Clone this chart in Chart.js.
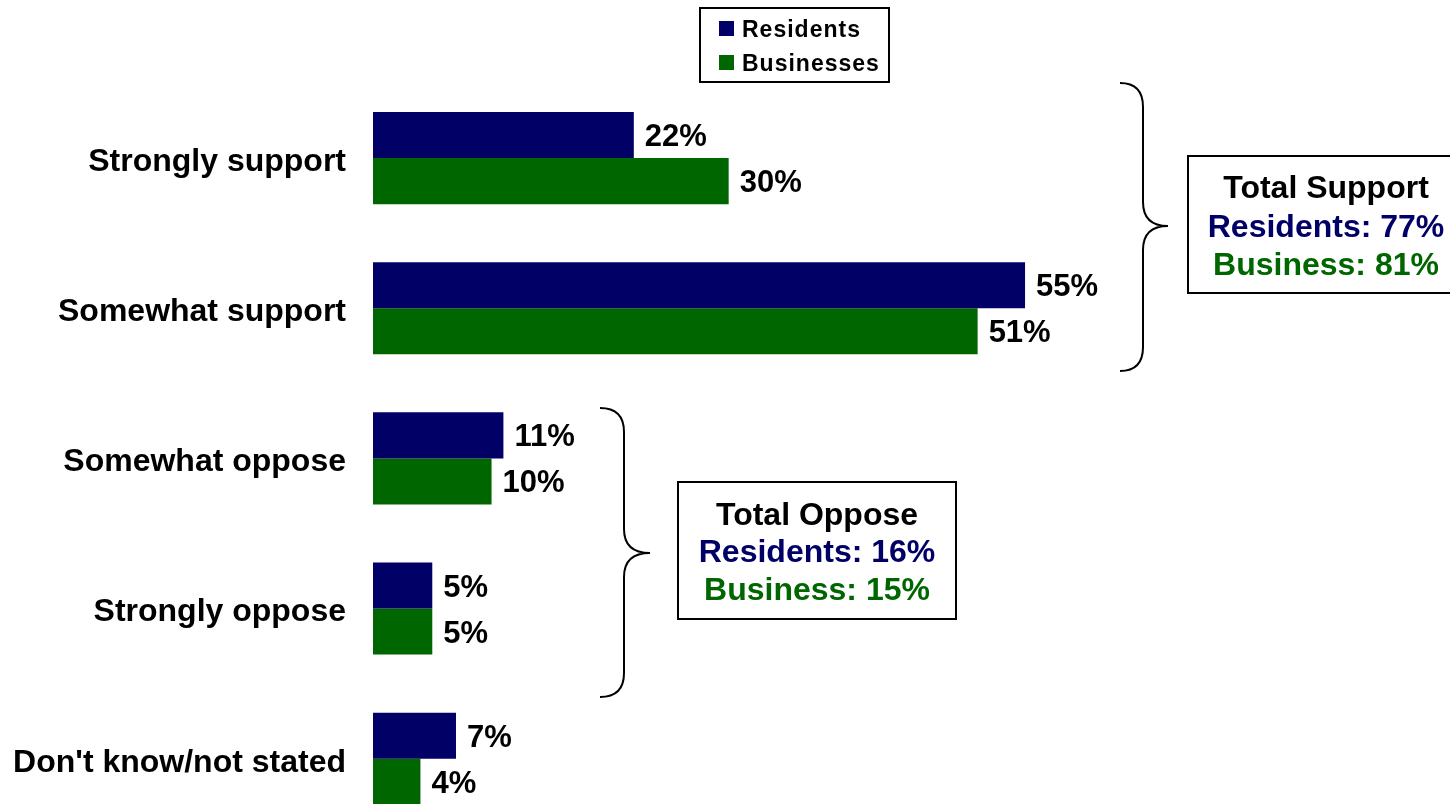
<!DOCTYPE html>
<html>
<head>
<meta charset="utf-8">
<title>Support and opposition: residents and businesses</title>
<script src="https://cdn.jsdelivr.net/npm/chart.js@4/dist/chart.umd.min.js"></script>
<style>
  html, body { margin: 0; padding: 0; background: #ffffff; overflow: hidden; }
  #chart { display: block; }
</style>
</head>
<body>
<canvas id="chart" width="1450" height="880"></canvas>
<script>
// Survey responses (percent)
const categories = ['Strongly support', 'Somewhat support', 'Somewhat oppose', 'Strongly oppose', "Don't know/not stated"];
const residents = [22, 55, 11, 5, 7];
const businesses = [30, 51, 10, 5, 4];
const seriesNames = ['Residents', 'Businesses'];

// Combined totals shown in the side boxes: [residents, business]
const totalSupport = [77, 81];
const totalOppose = [16, 15];

const NAVY = '#000066';
const GREEN = '#006600';
const FONT = '"Liberation Sans", Arial, Helvetica, sans-serif';

// Value labels at the end of each bar
const valueLabels = {
  id: 'valueLabels',
  afterDatasetsDraw(chart) {
    const ctx = chart.ctx;
    ctx.save();
    ctx.font = 'bold 31px ' + FONT;
    ctx.fillStyle = '#000000';
    ctx.textAlign = 'left';
    ctx.textBaseline = 'alphabetic';
    chart.data.datasets.forEach((ds, di) => {
      const meta = chart.getDatasetMeta(di);
      meta.data.forEach((bar, i) => {
        ctx.fillText(ds.data[i] + '%', bar.x + 11, bar.y + 11);
      });
    });
    ctx.restore();
  }
};

// Boxed legend at the top
const boxedLegend = {
  id: 'boxedLegend',
  afterDraw(chart) {
    const ctx = chart.ctx;
    ctx.save();
    ctx.strokeStyle = '#000000';
    ctx.lineWidth = 2;
    ctx.strokeRect(700, 8, 189, 74);
    ctx.font = 'bold 23px ' + FONT;
    if ('letterSpacing' in ctx) ctx.letterSpacing = '1px';
    ctx.textBaseline = 'alphabetic';
    ctx.textAlign = 'left';
    const rows = [21, 55];
    chart.data.datasets.forEach((ds, i) => {
      ctx.fillStyle = ds.backgroundColor;
      ctx.fillRect(719, rows[i], 15, 15);
      ctx.fillStyle = '#000000';
      ctx.fillText(ds.label, 742, rows[i] + 16);
    });
    ctx.restore();
  }
};

function drawBrace(ctx, xEnd, xMid, xTip, yTop, yTip, yBot, r) {
  ctx.beginPath();
  ctx.moveTo(xEnd, yTop);
  ctx.quadraticCurveTo(xMid, yTop, xMid, yTop + r);
  ctx.lineTo(xMid, yTip - r);
  ctx.quadraticCurveTo(xMid, yTip, xTip, yTip);
  ctx.quadraticCurveTo(xMid, yTip, xMid, yTip + r);
  ctx.lineTo(xMid, yBot - r);
  ctx.quadraticCurveTo(xMid, yBot, xEnd, yBot);
  ctx.stroke();
}

function drawTotalBox(ctx, x, y, w, h, cx, baselines, title, totals) {
  ctx.strokeStyle = '#000000';
  ctx.lineWidth = 2;
  ctx.fillStyle = '#ffffff';
  ctx.fillRect(x, y, w, h);
  ctx.strokeRect(x, y, w, h);
  ctx.font = 'bold 32px ' + FONT;
  ctx.textAlign = 'center';
  ctx.textBaseline = 'alphabetic';
  ctx.fillStyle = '#000000';
  ctx.fillText(title, cx, baselines[0]);
  ctx.fillStyle = NAVY;
  ctx.fillText('Residents: ' + totals[0] + '%', cx, baselines[1]);
  ctx.fillStyle = GREEN;
  ctx.fillText('Business: ' + totals[1] + '%', cx, baselines[2]);
}

// Braces grouping the support and oppose rows, with their totals
const groupTotals = {
  id: 'groupTotals',
  afterDraw(chart) {
    const ctx = chart.ctx;
    ctx.save();
    ctx.strokeStyle = '#000000';
    ctx.lineWidth = 2;
    drawBrace(ctx, 1120, 1143, 1168, 83, 226, 371, 24);
    drawBrace(ctx, 600, 624, 650, 408, 553, 697, 24);
    drawTotalBox(ctx, 1188, 156, 280, 137, 1326, [198, 237, 275], 'Total Support', totalSupport);
    drawTotalBox(ctx, 678, 482, 278, 137, 817, [525, 562, 600], 'Total Oppose', totalOppose);
    ctx.restore();
  }
};

new Chart(document.getElementById('chart'), {
  type: 'bar',
  data: {
    labels: categories,
    datasets: [
      { label: seriesNames[0], data: residents, backgroundColor: NAVY },
      { label: seriesNames[1], data: businesses, backgroundColor: GREEN }
    ]
  },
  options: {
    indexAxis: 'y',
    responsive: false,
    animation: false,
    devicePixelRatio: 1,
    datasets: {
      bar: { categoryPercentage: 0.6133, barPercentage: 1.0, borderWidth: 0 }
    },
    layout: { padding: { top: 83, bottom: 17, left: 0, right: 10 } },
    plugins: {
      legend: { display: false },
      tooltip: { enabled: false }
    },
    scales: {
      x: {
        display: false,
        min: 0,
        max: 90
      },
      y: {
        grid: { display: false, drawTicks: false },
        border: { display: false },
        ticks: {
          color: '#000000',
          font: { family: FONT, size: 32, weight: 'bold' },
          padding: 27,
          labelOffset: 4
        },
        afterFit(scale) { scale.width = 373; }
      }
    }
  },
  plugins: [valueLabels, boxedLegend, groupTotals]
});
</script>
</body>
</html>
